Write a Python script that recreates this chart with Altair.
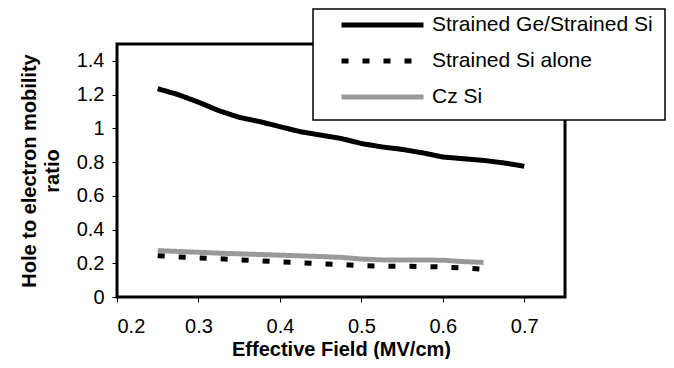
import altair as alt
import pandas as pd

# Effective field (MV/cm)
field = [0.25, 0.275, 0.3, 0.325, 0.35, 0.375, 0.4, 0.425, 0.45, 0.475,
         0.5, 0.525, 0.55, 0.575, 0.6, 0.625, 0.65, 0.675, 0.7]

ge_si = [1.235, 1.2, 1.155, 1.105, 1.065, 1.04, 1.01, 0.98, 0.96, 0.94,
         0.91, 0.89, 0.875, 0.855, 0.83, 0.82, 0.81, 0.795, 0.775]
si_alone = [0.245, 0.238, 0.232, 0.227, 0.22, 0.215, 0.208, 0.203, 0.197, 0.193,
            0.186, 0.183, 0.182, 0.181, 0.178, 0.172, 0.165]
cz_si = [0.275, 0.27, 0.265, 0.26, 0.256, 0.252, 0.248, 0.244, 0.24, 0.235,
         0.225, 0.22, 0.22, 0.22, 0.218, 0.21, 0.205]

series_names = ["Strained Ge/Strained Si", "Strained Si alone", "Cz Si"]
series_colors = ["#000000", "#000000", "#999999"]
series_dash = [[1, 0], [7, 14], [1, 0]]
series_width = [5, 5, 3.5]

x_ticks = [0.2, 0.3, 0.4, 0.5, 0.6, 0.7]
y_ticks = [0, 0.2, 0.4, 0.6, 0.8, 1.0, 1.2, 1.4]

rows = []
for order, (name, vals) in enumerate(zip(series_names, [ge_si, si_alone, cz_si])):
    for f, v in zip(field, vals):
        rows.append({"field": f, "ratio": v, "series": name, "order": order})
df = pd.DataFrame(rows)

FONT = "Liberation Sans"

leg = alt.Legend(
    title=None, orient="none", legendX=222, legendY=-32, padding=0,
    symbolType="stroke", symbolSize=6724, labelFontSize=21, labelFont=FONT,
    labelColor="black", labelOffset=6, rowPadding=10, clipHeight=26, labelLimit=500,
)

lines = alt.Chart(df).mark_line(strokeCap="butt", strokeJoin="round").encode(
    x=alt.X("field:Q",
            scale=alt.Scale(domain=[0.2, 0.75], nice=False, zero=False),
            axis=alt.Axis(values=x_ticks, format="~g", title="Effective Field (MV/cm)",
                          grid=False, labelPadding=14, titlePadding=3)),
    y=alt.Y("ratio:Q",
            scale=alt.Scale(domain=[0, 1.5], nice=False),
            axis=alt.Axis(values=y_ticks, format="~g",
                          title=["Hole to electron mobility", "ratio"],
                          grid=False, labelPadding=8, titlePadding=14,
                          titleLineHeight=23)),
    color=alt.Color("series:N", scale=alt.Scale(domain=series_names, range=series_colors), legend=leg),
    strokeDash=alt.StrokeDash("series:N", scale=alt.Scale(domain=series_names, range=series_dash), legend=leg),
    strokeWidth=alt.StrokeWidth("series:N", scale=alt.Scale(domain=series_names, range=series_width), legend=leg),
    detail="series:N",
    order="field:Q",
)

dummy = pd.DataFrame({"k": [0]})
frame = alt.Chart(dummy).mark_rect(fillOpacity=0, stroke="black", strokeWidth=3).encode(
    x=alt.value(0), x2=alt.value("width"), y=alt.value(0), y2=alt.value("height")
)
legend_box = alt.Chart(dummy).mark_rect(fill="white", stroke="black", strokeWidth=1.5).encode(
    x=alt.value(196), x2=alt.value(548), y=alt.value(-35), y2=alt.value(76)
)

chart = alt.layer(frame, lines, legend_box).properties(
    width=448, height=253,
    padding={"left": 109, "top": 36, "right": 101, "bottom": 62},
    autosize=alt.AutoSizeParams(type="none"),
).configure_view(strokeWidth=0).configure_axis(
    labelFont=FONT, labelFontSize=20, labelColor="black",
    titleFont=FONT, titleFontSize=20, titleFontWeight="bold", titleColor="black",
    tickColor="black", tickSize=5, tickWidth=1, domain=False,
)

chart.save("out.html", embed_options={"renderer": "svg", "actions": False})
